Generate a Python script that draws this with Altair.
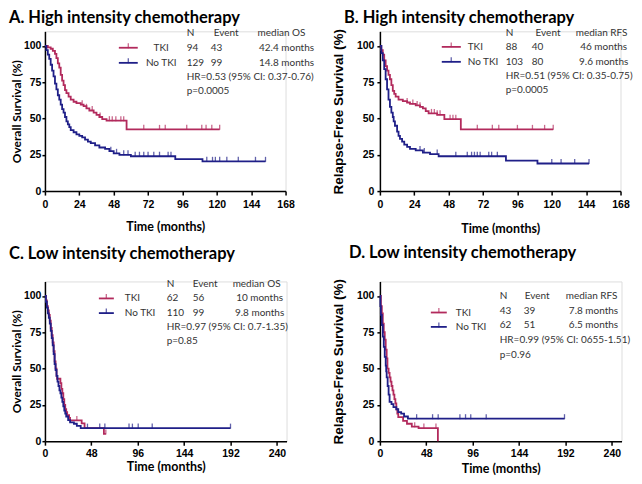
import altair as alt
import pandas as pd

RED = "#b22a5c"
BLUE = "#1f1f88"
TXT = "#333333"

# ---------------- Panel A: high intensity, overall survival ----------------
A_TKI_T = [0, 2, 4, 5.5, 7, 8, 9, 10, 11, 12, 13, 14, 15, 16.5, 18, 20, 22, 25, 27, 29, 31, 34, 36, 38, 40, 43, 57]
A_TKI_S = [100, 99, 98, 96.5, 94.5, 91.5, 88, 85, 80, 76, 73, 69.5, 67.5, 65, 63, 61.5, 60.5, 59.5, 58.5, 57, 55.5, 54, 52.5, 51, 49.5, 48.5, 42.5]
A_TKI_END = 122
A_TKI_CENS = [26, 29, 33, 38.5, 45, 47, 49.5, 53, 55, 69, 80, 84, 99, 109.5, 112.5, 116.5, 122]
A_NO_T = [0, 1, 2, 3, 4, 5, 6, 7, 8, 9, 10, 11, 12, 13, 14, 15, 16, 17, 18, 20, 22, 24, 26, 28, 30, 32, 35, 38, 42, 45, 48, 52, 60, 91, 110]
A_NO_S = [100, 97, 94, 91, 87, 83, 79, 74, 70, 66, 63, 59.5, 56.5, 54, 51, 48, 46, 44, 42, 40.5, 39, 38, 37, 35.5, 34, 33, 31.5, 30, 29, 27.5, 26, 25, 24, 22, 20.5]
A_NO_END = 154
A_NO_CENS = [46, 50, 55, 58, 63, 66, 69, 72, 76, 80, 86, 88, 113, 117, 119, 122, 127, 135, 147, 154]
A_HEAD = ["N", "Event", "median OS"]
A_ROW_TKI = ["94", "43", "42.4 months"]
A_ROW_NO = ["129", "99", "14.8 months"]
A_HR = "HR=0.53 (95% CI: 0.37-0.76)"
A_P = "p=0.0005"

# ---------------- Panel B: high intensity, relapse-free survival ----------------
B_TKI_T = [0, 1, 2, 3, 4, 5, 6, 7, 8, 9, 10, 11, 13, 16, 19, 21, 25, 28, 30, 32, 34, 40, 45, 56.5]
B_TKI_S = [100, 97, 94, 90, 86, 83, 80, 77, 73, 69, 67, 65, 63, 62, 61, 60, 59, 58, 57, 55, 53.5, 52.5, 49.5, 42.5]
B_TKI_END = 121
B_TKI_CENS = [19, 23, 26, 28, 36, 38, 40, 42, 49, 51, 53, 68, 78.5, 83, 96, 106.5, 115, 121]
B_NO_T = [0, 1, 2, 3, 4, 5, 6, 7, 8, 9, 9.6, 10.5, 12, 13, 14, 15.5, 17, 19, 21, 25, 30, 35, 41, 88, 110]
B_NO_S = [100, 95, 90, 84, 77, 70, 63, 58, 54, 51, 48, 45, 41, 38, 36, 34, 32, 30.5, 29, 28, 26.5, 25.5, 24, 21, 19]
B_NO_END = 146
B_NO_CENS = [28, 31, 40, 53, 61, 64, 66, 68, 70, 76, 78, 82, 120, 126.5, 136, 146]
B_HEAD = ["N", "Event", "median RFS"]
B_ROW_TKI = ["88", "40", "46 months"]
B_ROW_NO = ["103", "80", "9.6 months"]
B_HR = "HR=0.51 (95% CI: 0.35-0.75)"
B_P = "p=0.0005"

# ---------------- Panel C: low intensity, overall survival ----------------
C_TKI_T = [0, 1, 2, 3, 4, 5, 6, 7, 8, 9, 10, 11, 12, 12.5, 16, 17, 18, 19, 20, 21, 22, 23, 25, 26, 38, 41, 61]
C_TKI_S = [100, 97, 93, 90, 87, 83, 78, 73, 68, 62, 55, 50, 45, 43, 40, 36, 33, 29, 25, 22, 20, 18, 16, 14.3, 12.3, 9, 5]
C_TKI_END = 63
C_TKI_CENS = [33, 63]
C_NO_T = [0, 1, 2, 3, 4, 5, 6, 7, 8, 9, 10, 11, 12, 13, 14, 15, 16, 17, 18, 19, 20, 21, 22, 24, 26, 30, 33, 37]
C_NO_S = [100, 96, 92, 88, 85, 81, 76, 71, 66, 60, 53, 49, 45, 41, 38, 35, 33, 30, 27, 24, 21, 19, 17, 14.5, 13, 12, 10.5, 9]
C_NO_END = 192
C_NO_CENS = [44, 56.7, 62, 87, 90.5, 96.5, 111, 192]
C_HEAD = ["N", "Event", "median OS"]
C_ROW_TKI = ["62", "56", "10 months"]
C_ROW_NO = ["110", "99", "9.8 months"]
C_HR = "HR=0.97  (95% CI: 0.7-1.35)"
C_P = "p=0.85"

# ---------------- Panel D: low intensity, relapse-free survival ----------------
D_TKI_T = [0, 1, 2, 3, 4, 5, 6, 7, 7.8, 9, 10, 11, 12, 13, 14, 15, 16, 17, 18, 19, 24, 28, 33, 40, 60]
D_TKI_S = [100, 93, 88, 81, 75, 70, 63, 57, 50, 47, 44, 41, 38, 35, 32, 29, 26, 22, 19, 16.5, 14, 12, 10, 9, 0]
D_TKI_END = 60
D_TKI_CENS = [36, 45.5, 58]
D_NO_T = [0, 0.5, 1, 2, 3, 4, 5, 6, 6.5, 7, 8, 9, 10, 12, 14, 17, 19, 22, 25, 29]
D_NO_S = [100, 93, 87, 80, 72, 65, 58, 52, 48, 44, 38, 32, 27, 25.5, 23.5, 22, 20, 19, 17, 15.5]
D_NO_END = 191
D_NO_CENS = [38, 54.5, 60.3, 82.8, 88.6, 94, 110, 191]
D_HEAD = ["N", "Event", "median RFS"]
D_ROW_TKI = ["43", "39", "7.8 months"]
D_ROW_NO = ["62", "51", "6.5 months"]
D_HR = "HR=0.99 (95% CI: 0655-1.51)"
D_P = "p=0.96"

GROUPS = ["TKI", "No TKI"]
FS = 10


def steps(t, s, end, group):
    rows = [{"time": a, "surv": b, "group": group} for a, b in zip(t, s)]
    if end > t[-1]:
        rows.append({"time": end, "surv": s[-1], "group": group})
    return rows


def cens(t, s, times, group):
    out = []
    for c in times:
        v = s[0]
        for a, b in zip(t, s):
            if a <= c:
                v = b
        out.append({"time": c, "surv": v, "group": group})
    return out


color = alt.Color("group:N", scale=alt.Scale(domain=GROUPS, range=[RED, BLUE]), legend=None)


def panel(title, ytitle, yfont, yfs, xmax, xvals, width, tki, no, head, row_tki, row_no, hr, p, lay):
    (t_t, t_s, t_end, t_c) = tki
    (n_t, n_s, n_end, n_c) = no
    curve = pd.DataFrame(steps(t_t, t_s, t_end, "TKI") + steps(n_t, n_s, n_end, "No TKI"))
    ticks = pd.DataFrame(cens(t_t, t_s, t_c, "TKI") + cens(n_t, n_s, n_c, "No TKI"))

    xs = alt.Scale(domain=[0, xmax], nice=False)
    ys = alt.Scale(domain=[0, 110], nice=False)
    xax = alt.Axis(values=xvals, title="Time (months)", titleFont="Lato", titleFontSize=12.5,
                   titleFontWeight="bold", titleColor="black", labelFont="Liberation Sans",
                   labelFontSize=10.5, labelFontWeight="bold", labelColor="black", labelFlush=False,
                   labelOverlap=False, domainColor="black", domainWidth=1.5, tickColor="black",
                   tickWidth=1.5, tickSize=4, labelPadding=lay["xlp"], titlePadding=lay["xtp"], grid=False)
    yax = alt.Axis(values=[0, 25, 50, 75, 100], title=ytitle, titleFont=yfont, titleFontSize=yfs,
                   titleFontWeight="bold", titleColor="black", labelFont="Liberation Sans",
                   labelFontSize=10.5, labelFontWeight="bold", labelColor="black", labelOverlap=False,
                   domainColor="black", domainWidth=1.5, tickColor="black", tickWidth=1.5,
                   tickSize=3, labelPadding=lay["ylp"], titlePadding=lay["ytp"], grid=False)

    def X(f):
        return alt.X(f, scale=xs, axis=xax)

    def Y(f):
        return alt.Y(f, scale=ys, axis=yax)

    lines = alt.Chart(curve).mark_line(interpolate="step-after", strokeWidth=1.8).encode(
        x=X("time:Q"), y=Y("surv:Q"), color=color, detail="group:N")
    cticks = alt.Chart(ticks).mark_tick(orient="vertical", size=5, thickness=1.3, yOffset=-2).encode(
        x=X("time:Q"), y=Y("surv:Q"), color=color)

    leg = pd.DataFrame({
        "group": GROUPS,
        "x1": [lay["lx1"]] * 2, "x2": [lay["lx2"]] * 2, "xm": [lay["lxm"]] * 2,
        "y": [lay["ly_tki"], lay["ly_no"]],
        "label": GROUPS, "labx": [lay["labx"]] * 2,
    })
    leg_rule = alt.Chart(leg).mark_rule(strokeWidth=1.8).encode(
        x=X("x1:Q"), x2="x2:Q", y=Y("y:Q"), color=color)
    leg_tick = alt.Chart(leg).mark_tick(orient="vertical", size=5, thickness=1.3, yOffset=-2).encode(
        x=X("xm:Q"), y=Y("y:Q"), color=color)
    leg_text = alt.Chart(leg).mark_text(align=lay["labalign"], baseline="middle", font="Lato",
                                        fontSize=FS, color=TXT).encode(
        x=X("labx:Q"), y=Y("y:Q"), text="label:N")

    left_rows = [
        (head[0], lay["cN"], lay["r0"]), (head[1], lay["cEh"], lay["r0"]),
        (row_tki[0], lay["cN"], lay["r1"]), (row_tki[1], lay["cE"], lay["r1"]),
        (row_no[0], lay["cN"], lay["r2"]), (row_no[1], lay["cE"], lay["r2"]),
        (hr, lay["cN"], lay["r3"]), (p, lay["cN"], lay["r4"]),
    ]
    center_rows = [
        (head[2], lay["cMh"], lay["r0"]), (row_tki[2], lay["cM"], lay["r1"]), (row_no[2], lay["cM"], lay["r2"]),
    ]
    lt = pd.DataFrame(left_rows, columns=["text", "x", "y"])
    ct = pd.DataFrame(center_rows, columns=["text", "x", "y"])
    ltxt = alt.Chart(lt).mark_text(align="left", baseline="middle", font="Lato", fontSize=FS, color=TXT).encode(
        x=X("x:Q"), y=Y("y:Q"), text="text:N")
    ctxt = alt.Chart(ct).mark_text(align="center", baseline="middle", font="Lato", fontSize=FS, color=TXT).encode(
        x=X("x:Q"), y=Y("y:Q"), text="text:N")

    return alt.layer(lines, cticks, leg_rule, leg_tick, leg_text, ltxt, ctxt).properties(
        width=width, height=160,
        title=alt.TitleParams(text=title, anchor="start", frame="group", dx=lay["tdx"], offset=lay["toff"],
                              font="Lato", fontSize=16.5, fontWeight="bold", color="black"),
    )


LAY_A = dict(xlp=4, xtp=11, ylp=1, ytp=0, tdx=-36, toff=1.5,
             lx1=51.6, lx2=64.8, lxm=58.2, ly_tki=98.7, ly_no=88.3, labx=81.2, labalign="center",
             cN=99.0, cE=115.7, cEh=117.8, cMh=165.2, cM=168.7,
             r0=109, r1=98.7, r2=88.3, r3=78.7, r4=69.1)
LAY_B = dict(xlp=4, xtp=13, ylp=3, ytp=11, tdx=-36, toff=1.5,
             lx1=43.2, lx2=56.5, lxm=49.8, ly_tki=99.3, ly_no=89.0, labx=61.3, labalign="left",
             cN=87.8, cE=106.0, cEh=108.7, cMh=154.8, cM=156.2,
             r0=109, r1=99.3, r2=89.0, r3=79.4, r4=69.8)
LAY_C = dict(xlp=3, xtp=2, ylp=1, ytp=0, tdx=-36, toff=17,
             lx1=55.8, lx2=71.3, lxm=63.5, ly_tki=98.3, ly_no=88.2, labx=82.6, labalign="left",
             cN=126.0, cE=152.9, cEh=152.9, cMh=219.0, cM=222.1,
             r0=108.1, r1=98.3, r2=88.2, r3=78.4, r4=68.8)
LAY_D = dict(xlp=3, xtp=4, ylp=3, ytp=11, tdx=-31, toff=17,
             lx1=52.7, lx2=69.2, lxm=61.0, ly_tki=88.6, ly_no=78.7, labx=78.5, labalign="left",
             cN=124.0, cE=148.8, cEh=149.8, cMh=219.0, cM=221.0,
             r0=100.2, r1=89.9, r2=80.0, r3=69.9, r4=59.3)

XV1 = [0, 24, 48, 72, 96, 120, 144, 168]
XV2 = [0, 48, 96, 144, 192, 240]

pA = panel("A. High intensity chemotherapy", "Overall Survival (%)", "Lato", 12, 168, XV1, 241,
           (A_TKI_T, A_TKI_S, A_TKI_END, A_TKI_CENS), (A_NO_T, A_NO_S, A_NO_END, A_NO_CENS),
           A_HEAD, A_ROW_TKI, A_ROW_NO, A_HR, A_P, LAY_A)
pB = panel("B. High intensity chemotherapy", "Relapse-Free Survival (%)", "Liberation Sans", 13.5, 168, XV1, 241,
           (B_TKI_T, B_TKI_S, B_TKI_END, B_TKI_CENS), (B_NO_T, B_NO_S, B_NO_END, B_NO_CENS),
           B_HEAD, B_ROW_TKI, B_ROW_NO, B_HR, B_P, LAY_B)
pC = panel("C. Low intensity chemotherapy", "Overall Survival (%)", "Lato", 12, 250, XV2, 242,
           (C_TKI_T, C_TKI_S, C_TKI_END, C_TKI_CENS), (C_NO_T, C_NO_S, C_NO_END, C_NO_CENS),
           C_HEAD, C_ROW_TKI, C_ROW_NO, C_HR, C_P, LAY_C)
pD = panel("D. Low intensity chemotherapy", "Relapse-Free Survival (%)", "Liberation Sans", 13.5, 250, XV2, 242,
           (D_TKI_T, D_TKI_S, D_TKI_END, D_TKI_CENS), (D_NO_T, D_NO_S, D_NO_END, D_NO_CENS),
           D_HEAD, D_ROW_TKI, D_ROW_NO, D_HR, D_P, LAY_D)

chart = alt.concat(pA, pB, pC, pD, columns=2, spacing={"row": 90.5, "column": 93.5}, bounds="flush").properties(
    padding={"top": 0, "left": 0, "right": 0, "bottom": 0}
).configure_view(stroke=None).configure_axis(labelOverlap=False, labelFlush=False).configure(background="white")

chart.save("out.html", embed_options={"renderer": "svg", "actions": False})
